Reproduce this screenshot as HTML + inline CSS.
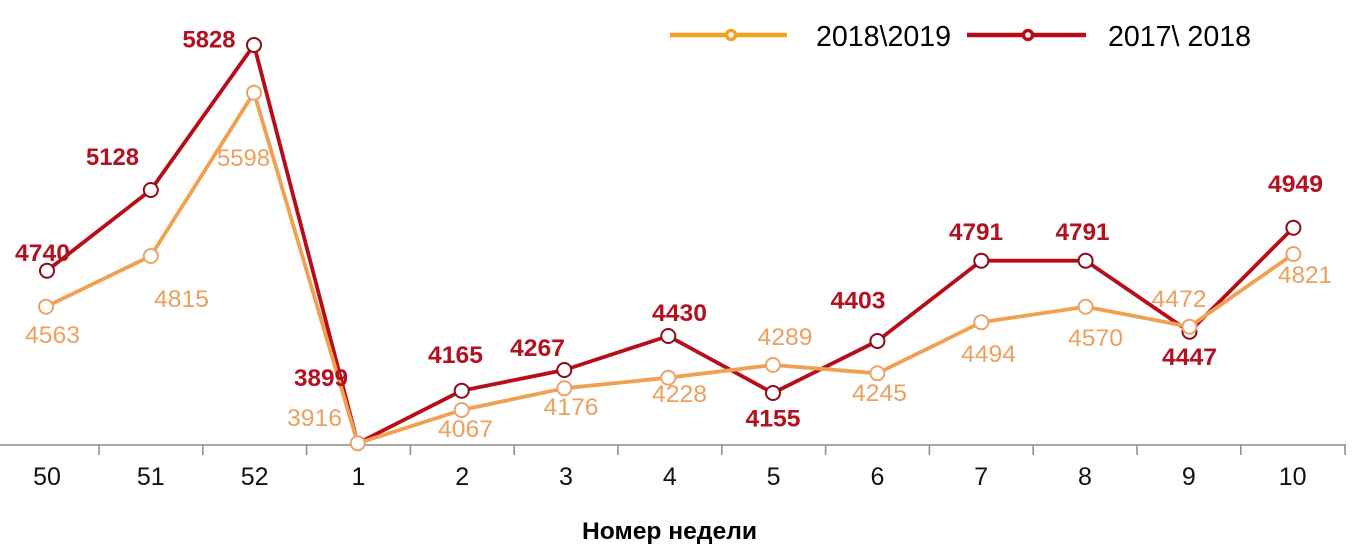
<!DOCTYPE html>
<html><head><meta charset="utf-8">
<style>
html,body{margin:0;padding:0;background:#fff;}
svg{display:block;}
</style></head>
<body>
<svg width="1367" height="553" viewBox="0 0 1367 553" xmlns="http://www.w3.org/2000/svg" font-family="'Liberation Sans', Arial, sans-serif">
<rect width="1367" height="553" fill="#fff"/>
<!-- legend -->
<line x1="670" y1="35" x2="787" y2="35" stroke="#F4A020" stroke-width="4.5"/>
<circle cx="731" cy="35" r="4.5" fill="#fff" stroke="#F4A020" stroke-width="3.5"/>
<text x="816" y="46" font-size="29" fill="#000" textLength="135" lengthAdjust="spacingAndGlyphs">2018\2019</text>
<line x1="967" y1="35" x2="1086" y2="35" stroke="#B80D18" stroke-width="4.5"/>
<circle cx="1028" cy="35" r="4.5" fill="#fff" stroke="#B80D18" stroke-width="3.5"/>
<text x="1108" y="46" font-size="29" fill="#000" textLength="143" lengthAdjust="spacingAndGlyphs">2017\ 2018</text>

<!-- axis -->
<line x1="0" y1="445" x2="1346" y2="445" stroke="#8a8a8a" stroke-width="1.5"/>
<g stroke="#8a8a8a" stroke-width="1.5">
<line x1="99" y1="445" x2="99" y2="455"/>
<line x1="202.8" y1="445" x2="202.8" y2="455"/>
<line x1="306.6" y1="445" x2="306.6" y2="455"/>
<line x1="410.4" y1="445" x2="410.4" y2="455"/>
<line x1="514.2" y1="445" x2="514.2" y2="455"/>
<line x1="618" y1="445" x2="618" y2="455"/>
<line x1="721.8" y1="445" x2="721.8" y2="455"/>
<line x1="825.6" y1="445" x2="825.6" y2="455"/>
<line x1="929.4" y1="445" x2="929.4" y2="455"/>
<line x1="1033.2" y1="445" x2="1033.2" y2="455"/>
<line x1="1137" y1="445" x2="1137" y2="455"/>
<line x1="1240.8" y1="445" x2="1240.8" y2="455"/>
<line x1="1345" y1="445" x2="1345" y2="455"/>
</g>
<g font-size="25" fill="#111" text-anchor="middle">
<text x="47" y="485">50</text>
<text x="150.8" y="485">51</text>
<text x="254.6" y="485">52</text>
<text x="358.4" y="485">1</text>
<text x="462.2" y="485">2</text>
<text x="566" y="485">3</text>
<text x="669.8" y="485">4</text>
<text x="773.6" y="485">5</text>
<text x="877.4" y="485">6</text>
<text x="981.2" y="485">7</text>
<text x="1085" y="485">8</text>
<text x="1188.8" y="485">9</text>
<text x="1292.6" y="485">10</text>
</g>
<text x="582" y="539" font-size="24" font-weight="bold" fill="#000" textLength="175" lengthAdjust="spacingAndGlyphs">Номер недели</text>

<!-- red series -->
<polyline fill="none" stroke="#B80D18" stroke-width="3.8" stroke-linejoin="round"
 points="47,270.7 150.8,190 254,45 357.7,443.3 461.7,390.7 564.3,370 668.3,336 773,393 877.4,341 981.3,260.7 1085.6,260.7 1189.5,331.7 1293.4,227.7"/>
<g fill="#fff" stroke="#8E0A16" stroke-width="2">
<circle cx="47" cy="270.7" r="7"/>
<circle cx="150.8" cy="190" r="7"/>
<circle cx="254" cy="45" r="7"/>
<circle cx="461.7" cy="390.7" r="7"/>
<circle cx="564.3" cy="370" r="7"/>
<circle cx="668.3" cy="336" r="7"/>
<circle cx="773" cy="393" r="7"/>
<circle cx="877.4" cy="341" r="7"/>
<circle cx="981.3" cy="260.7" r="7"/>
<circle cx="1085.6" cy="260.7" r="7"/>
<circle cx="1189.5" cy="331.7" r="7"/>
<circle cx="1293.4" cy="227.7" r="7"/>
</g>

<!-- orange series -->
<polyline fill="none" stroke="#F0A050" stroke-width="3.8" stroke-linejoin="round"
 points="46,306.7 150.8,256 254,92.7 357.7,443.3 461.7,410 564.3,388.3 668.3,377.7 773,365 877.4,373.3 981.3,322.3 1085.6,306.7 1189.5,326.7 1293.4,254"/>
<g fill="#fff" stroke="#E9A468" stroke-width="2">
<circle cx="46" cy="306.7" r="7"/>
<circle cx="150.8" cy="256" r="7"/>
<circle cx="254" cy="92.7" r="7"/>
<circle cx="357.7" cy="443.3" r="7"/>
<circle cx="461.7" cy="410" r="7"/>
<circle cx="564.3" cy="388.3" r="7"/>
<circle cx="668.3" cy="377.7" r="7"/>
<circle cx="773" cy="365" r="7"/>
<circle cx="877.4" cy="373.3" r="7"/>
<circle cx="981.3" cy="322.3" r="7"/>
<circle cx="1085.6" cy="306.7" r="7"/>
<circle cx="1189.5" cy="326.7" r="7"/>
<circle cx="1293.4" cy="254" r="7"/>
</g>

<!-- red labels -->
<g font-size="24.5" font-weight="bold" fill="#B31020" text-anchor="middle">
<text x="42.5" y="261" textLength="55" lengthAdjust="spacingAndGlyphs">4740</text>
<text x="112.5" y="165" textLength="53" lengthAdjust="spacingAndGlyphs">5128</text>
<text x="209" y="47.5" textLength="53" lengthAdjust="spacingAndGlyphs">5828</text>
<text x="321" y="386" textLength="54" lengthAdjust="spacingAndGlyphs">3899</text>
<text x="455.5" y="363" textLength="55" lengthAdjust="spacingAndGlyphs">4165</text>
<text x="537.5" y="356" textLength="55" lengthAdjust="spacingAndGlyphs">4267</text>
<text x="679.5" y="321" textLength="55" lengthAdjust="spacingAndGlyphs">4430</text>
<text x="773" y="426.5" textLength="55" lengthAdjust="spacingAndGlyphs">4155</text>
<text x="858" y="308.5" textLength="55" lengthAdjust="spacingAndGlyphs">4403</text>
<text x="976" y="240" textLength="54" lengthAdjust="spacingAndGlyphs">4791</text>
<text x="1082.5" y="240" textLength="54" lengthAdjust="spacingAndGlyphs">4791</text>
<text x="1189.5" y="365" textLength="55" lengthAdjust="spacingAndGlyphs">4447</text>
<text x="1295.5" y="192" textLength="55" lengthAdjust="spacingAndGlyphs">4949</text>
</g>
<!-- orange labels -->
<g font-size="24" fill="#EBA060" text-anchor="middle">
<text x="52.5" y="343" textLength="55" lengthAdjust="spacingAndGlyphs">4563</text>
<text x="181.5" y="307" textLength="55" lengthAdjust="spacingAndGlyphs">4815</text>
<text x="243.5" y="166" textLength="53" lengthAdjust="spacingAndGlyphs">5598</text>
<text x="314.5" y="426" textLength="55" lengthAdjust="spacingAndGlyphs">3916</text>
<text x="465.5" y="437" textLength="55" lengthAdjust="spacingAndGlyphs">4067</text>
<text x="571" y="415" textLength="55" lengthAdjust="spacingAndGlyphs">4176</text>
<text x="679.5" y="402" textLength="55" lengthAdjust="spacingAndGlyphs">4228</text>
<text x="785" y="345" textLength="55" lengthAdjust="spacingAndGlyphs">4289</text>
<text x="879.5" y="401" textLength="55" lengthAdjust="spacingAndGlyphs">4245</text>
<text x="988.5" y="362" textLength="55" lengthAdjust="spacingAndGlyphs">4494</text>
<text x="1095.5" y="346" textLength="55" lengthAdjust="spacingAndGlyphs">4570</text>
<text x="1179" y="307" textLength="55" lengthAdjust="spacingAndGlyphs">4472</text>
<text x="1305" y="283" textLength="54" lengthAdjust="spacingAndGlyphs">4821</text>
</g>
</svg>
</body></html>
